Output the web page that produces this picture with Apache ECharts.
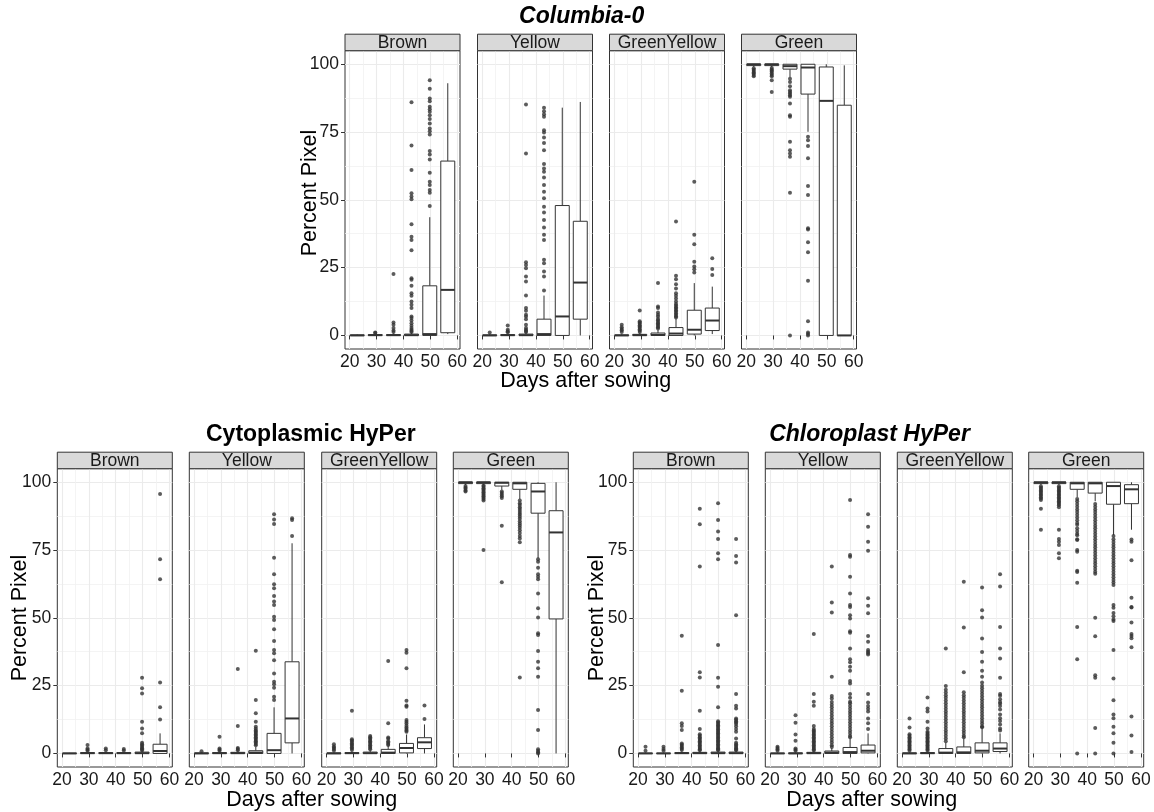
<!DOCTYPE html>
<html>
<head>
<meta charset="utf-8">
<script src="https://cdn.jsdelivr.net/npm/echarts@6/dist/echarts.min.js"></script>
<style>
html,body{margin:0;padding:0;background:#fff;}
#chart{width:1154px;height:812px;}
</style>
</head>
<body>
<div id="chart"></div>
<script>
// ---------------- data ----------------
const sowingDays = [22.8, 29.5, 36.3, 43.0, 49.8, 56.5];
const xTickValues = [20, 30, 40, 50, 60];
const xMinorValues = [25, 35, 45, 55];
const yTickValues = [0, 25, 50, 75, 100];
const yMinorValues = [12.5, 37.5, 62.5, 87.5];
const colourClasses = ['Brown', 'Yellow', 'GreenYellow', 'Green'];
const genotypeTitles = ['Columbia-0', 'Cytoplasmic HyPer', 'Chloroplast HyPer'];

// box stats per sampling day: [lower whisker, Q1, median, Q3, upper whisker]
const col0Brown = [[0,0,0,0.2,0.4],[0,0,0.1,0.3,0.6],[0,0,0.1,0.3,0.7],[0,0,0.1,0.5,1.0],[0,0,0.5,18.3,43.6],[0.5,1.0,16.8,64.3,93]];
const col0BrownOut = [[],[0.9,1.1],[22.7,4.8,3.9,2.7,1.8,1.3],[86,70,61,52.4,51.2,50.2,41,36.4,35.2,31.4,21.1,20.5,18.3,15.6,14.6,12.5,11.3,10.1,7,6.4,5.5,4.5,3.6,2.7,2.1,1.6,1.3],[94.1,91,87.4,86.4,84.3,83.4,82.5,81.2,79.8,78.2,76.3,75.3,74.1,68,66.7,64.9,60,56.7,55.5,53.6,52.6,47.7],[]];
const col0Yellow = [[0,0,0,0.2,0.5],[0,0,0.1,0.3,0.7],[0,0,0.1,0.5,1.0],[0,0,0.5,6,14.7],[0,0,7,47.9,84],[0,6,19.5,42.1,86.1]];
const col0YellowOut = [[1.1],[3.7,2.1,1.5,1.2],[85.2,67.1,27,26,24.8,21.7,19.9,14.7,10.1,9.1,7.6,7,6,3.9,2.7,2.1,1.6,1.3],[84,82.7,81.6,80.6,75.7,74.8,73,71,68.3,63.2,61.6,60.4,58.2,55.5,53,50.6,47.5,45.3,42.6,39.8,37.1,35.2,27.9,26.6,23.6,21.7,16.6],[],[]];
const col0GreenYellow = [[0,0,0,0.2,0.5],[0,0,0.1,0.4,0.8],[0,0,0.2,0.9,2.0],[0,0,0.7,2.9,6.2],[0,0.5,2.1,9.3,19.3],[0.5,1.8,5.5,10.1,18]];
const col0GreenYellowOut = [[3.9,3.0,2.4,1.9,1.3],[9.2,5.2,4.8,4.3,3.8,3.3,2.8,2.3,1.8,1.3],[19.3,10.7,10.1,8.5,7.6,7,6.1,5.6,5,4.5,4,3.5,3,2.6],[42,22,20.7,18.9,17.3,15.6,14.6,13.6,12.5,11.6,11,10.4,9.9,9.3,8.8,8.2,7.6,7.1,6.6],[56.7,37.1,33.6,27.2,25.4,24.4,23.2],[28.5,24.5,22.3]];
const col0Green = [[99,99.5,100,100,100],[99,99.5,100,100,100],[95.3,98.2,99.3,100,100],[75.1,89,98.8,100,100],[0,0,86.5,99,100],[0,0,0,84.9,99.6]];
const col0GreenOut = [[98.5,98,97.5,97,96.6,96,95.6],[98.6,98.1,97.6,97.2,96.6,96,95.6,94.1,89.8],[94.7,93.5,91.9,90.4,89.8,89.2,88.6,88,85.5,81.2,80.6,71.4,68.3,67.1,65.9,52.6,0],[73.3,72,69.9,65.3,55.1,51.8,39.5,39.1,34.4,30.7,20.2,5.2,1.1,0.5,0],[],[]];

const cytBrown = [[0,0,0,0.1,0.2],[0,0,0.1,0.3,0.6],[0,0,0.1,0.3,0.6],[0,0,0.1,0.3,0.6],[0,0,0.1,0.5,1.0],[0,0,0.9,3.4,7.4]];
const cytBrownOut = [[],[3.1,1.8,1.4,1.0],[1.8,1.2],[1.6,1.1],[27.9,24,22.1,11.7,9.2,7.4,3.9,3.4,2.9,2.4,1.9,1.5,1.1],[95.7,71.6,64.2,26.2,17,12.5]];
const cytYellow = [[0,0,0,0.2,0.4],[0,0,0.1,0.3,0.6],[0,0,0.1,0.4,0.8],[0,0,0.3,1.0,2.4],[0,0,1.2,7.4,17],[0,3.9,12.9,33.8,77.5]];
const cytYellowOut = [[0.8],[6.2,1.8,1.4,1.0],[31.1,10.1,2.0,1.6,1.2],[37.9,19.7,14.8,11.7,9.8,9.1,8.5,8,7.5,7,6.5,6,5.5,5,4.5,4,3.5,3],[88.2,86.3,84.6,72.2,66.1,62.4,60.9,58.1,56,54.7,50.4,49.2,45.8,41.5,38.1,36.9,34.4,29.5,26.4,25.5,24.2,20.9,19.7],[86.7,86.1,80.2]];
const cytGreenYellow = [[0,0,0,0.2,0.5],[0,0,0.1,0.3,0.7],[0,0,0.1,0.5,1.2],[0,0,0.3,1.5,2.8],[0,0.2,2,3.7,7],[0,1.8,4.1,5.8,10.7]];
const cytGreenYellowOut = [[3.4,2.6,2.1,1.6,1.1],[15.7,5.2,4.8,4.3,3.8,3.3,2.8,2.3,1.8,1.3],[6.4,6,5.5,5,4.5,4,3.5,3,2.5,2,1.5],[34.1,11.1,5.9,5.4,4.5,4,3.5,3.1],[38.1,37.1,31.4,19.4,17.7,17.2,12.3,11.7,11,10.2,9.6,9,8.5,8],[17.7,12.7]];
const cytGreen = [[99,99.5,100,100,100],[99,99.5,100,100,100],[97.2,98.6,99.8,100,100],[93.8,97.4,99.6,100,100],[72,88.6,96.6,99.6,100],[0,49.6,81.5,89.5,100]];
const cytGreenOut = [[98.6,98.1,97.6,97,96.6],[98.8,98.3,97.8,97.3,96.8,96.3,95.8,95.3,94.8,94.3,93.8,93.3,75],[96.6,96,95.4,94.8,94.2,84,63.1],[93.3,92.3,91.6,90.8,90.1,89.4,88.7,88,87.3,86.5,85.6,84.8,84.1,83.2,82.3,81.3,80.2,79.3,77.9,28],[71.6,70.7,68.5,66.1,65.2,64.2,59,53.5,50.1,44.3,43.7,37.8,33.8,31.4,28.3,16,8.6,1.5,0.9,0.4,0],[]];

const chlBrown = [[0,0,0,0.1,0.3],[0,0,0,0.1,0.3],[0,0,0.1,0.3,0.7],[0,0,0.1,0.4,0.9],[0,0,0.1,0.5,1.0],[0,0,0.1,0.5,1.0]];
const chlBrownOut = [[2.5,1],[2.5,1.6,1],[43.4,23.1,11.1,10.1,8.6,3.7,3.2,2.7,2.2,1.7,1.3],[90.2,84.5,68.9,29.9,28,15.7,9,7.1,6.5,6,5.5,5,4.5,4,3.5,3,2.5,2,1.5,1.2],[92.3,86.1,81.8,79.1,73.8,71.6,40,27.9,24.6,17,11.9,11.4,10.9,10.4,9.9,9.4,8.9,8.4,7.9,7.4,6.9,6.4,5.9,5.4,4.9,4.4,3.9,3.4,2.9,2.4,1.9,1.5,1.2],[79.1,72.8,70.4,51,21.9,17.6,16.6,12.9,12.4,11.9,11.4,10.9,10,9,8,5.5,3.9,3.4,2.9,2.4,1.9,1.5,1.2]];
const chlYellow = [[0,0,0,0.1,0.3],[0,0,0,0.2,0.5],[0,0,0.1,0.4,0.9],[0,0,0.3,0.9,2.0],[0,0,0.5,2.2,5.5],[0,0.2,1,3.1,7.4]];
const chlYellowOut = [[2.5,2,1.5,1],[14.1,11.3,7,4.7,1.8,1.4,1],[44,21.9,19.1,17.6,10.1,9,8.5,8,7.5,7,6.5,6,5.5,5,4.5,4,3.5,3,2.5,2,1.5,1.1],[68.9,55.7,52,28.3,21.2,20.3,19,18,17,16,15,14,13,12,11,10,9,8,7,6,5,4,3,2.4],[93.5,73.2,72.5,65.2,59,54.7,54,51,49.8,45.1,44.5,38.7,34.7,33.6,32,30.5,26.7,25.8,21.9,20.5,19.1,18.5,17.5,16.5,15.5,14.5,13.5,12.5,11.5,10.5,9.5,8.5,7.5,6.5,6],[88.2,83.6,78.1,74.7,57.2,54.5,51.7,43.3,41.2,38.1,37.5,37,36.5,21.9,18.8,17.5,16.5,15.5,12.9,11.1,9]];
const chlGreenYellow = [[0,0,0,0.2,0.5],[0,0,0.1,0.3,0.7],[0,0,0.3,1.8,4.0],[0,0,0.4,2.4,5.5],[0,0.2,1,3.9,9.3],[0,0.7,1.8,3.9,7.4]];
const chlGreenYellowOut = [[12.9,9.6,7.1,6.5,6,5.5,5,4.5,4,3.5,3,2.5,2,1.5,1],[20.6,16.6,15.5,11.7,9.2,8,7.5,7,6.5,6,5.5,5,4.5,4,3.5,3,2.5,2,1.5,1],[38.7,24.9,23.5,22.5,21.5,20.5,19.5,18.5,17.5,16.5,15.5,14.5,13.5,12.5,11.5,10.5,9.5,8.5,7.5,6.5,5.5,4.5],[63.3,46.4,29.9,22.6,21.5,20.5,19.5,18.5,17.5,16.5,15.5,14.5,13.5,12.5,11.5,10.5,9.5,8.5,7.5,6.5,6],[61.2,52.8,50.1,42.4,37.4,33.8,30.5,28.3,26.2,25,24,23,22,21,20,19,18,17,16,15,14,13,12,11,10,9.7],[66.1,61.6,46.6,38.7,35,27.9,21.9,21.3,20,19,18.4,17.5,16.2,14.4,13,12,10.7,9.2,8.5]];
const chlGreen = [[99,99.5,100,100,100],[99,99.5,100,100,100],[94.5,97.4,99.6,100,100],[93,96,99.6,100,100],[80.5,91.9,98.6,100,100],[82.5,92.1,97.4,99.1,100]];
const chlGreenOut = [[98.5,98,97.5,97,96.5,96,95.5,95,94.5,94,93.5,90.2,82.5],[98.5,98,97.5,97,96.5,96,95.5,95,94.5,94,93.5,93,92.5,92,91.5,90.8,82.5,79.1,78.1,76.9,73.8,72],[93.8,93,92,91,90,89,88,87,86,85,84.3,83,82,81,80.5,79,78.7,75,74.4,67.4,66.9,62.9,46.6,34.7,0],[92,91,90,89,88,87,86,85,84,83,82,81,80,79,78,77,76,75,74,73,72,71,70,69,68,67,66.3,50,43.2,28.8,27.9,9.4,0],[80.2,79,78,77,76,75,74,73,72,71,70,69,68,67,66,65,64,63,62.1,54.7,53.7,51.8,50.6,49.4,48.8,38.1,27.6,19.6,14.4,13,9.8,7.4,3.9,0],[78.9,78.1,71.2,57.4,54,53.8,48.3,44,43.3,42.5,39.2,13.6,6.6,0.5]];

// ---------------- layout (pixels) ----------------
const FONT = '"Liberation Sans", Arial, Helvetica, sans-serif';
const PANEL_W = 115, PANEL_H = 298.3, STRIP_H = 16.5;
const groups = [
  { title: genotypeTitles[0], italic: true, top: 50.7, lefts: [345, 477.5, 609.5, 741.5],
    stats: [col0Brown, col0Yellow, col0GreenYellow, col0Green],
    outs: [col0BrownOut, col0YellowOut, col0GreenYellowOut, col0GreenOut],
    titlePos: [581.7, 17], yTitle: [310, 193], xTitle: [585.7, 381.5] },
  { title: genotypeTitles[1], italic: false, top: 468.7, lefts: [57.3, 189.3, 321.7, 453.3],
    stats: [cytBrown, cytYellow, cytGreenYellow, cytGreen],
    outs: [cytBrownOut, cytYellowOut, cytGreenYellowOut, cytGreenOut],
    titlePos: [310.8, 435], yTitle: [20, 618], xTitle: [311.7, 800] },
  { title: genotypeTitles[2], italic: true, top: 468.7, lefts: [633.3, 765.3, 897.3, 1028.7],
    stats: [chlBrown, chlYellow, chlGreenYellow, chlGreen],
    outs: [chlBrownOut, chlYellowOut, chlGreenYellowOut, chlGreenOut],
    titlePos: [869.5, 435], yTitle: [596.7, 618], xTitle: [871.7, 800] }
];

const BOX_W_DAYS = 5.2;
function renderBox(params, api) {
  const x = api.value(0);
  const pLo = api.coord([x, api.value(1)]);
  const pQ1 = api.coord([x, api.value(2)]);
  const pMed = api.coord([x, api.value(3)]);
  const pQ3 = api.coord([x, api.value(4)]);
  const pHi = api.coord([x, api.value(5)]);
  const half = api.size([BOX_W_DAYS, 0])[0] / 2;
  const cx = pLo[0];
  const st = { stroke: '#333333', lineWidth: 1, fill: null };
  return {
    type: 'group',
    children: [
      { type: 'line', shape: { x1: cx, y1: pHi[1], x2: cx, y2: pQ3[1] }, style: st },
      { type: 'line', shape: { x1: cx, y1: pQ1[1], x2: cx, y2: pLo[1] }, style: st },
      { type: 'rect', shape: { x: cx - half, y: pQ3[1], width: half * 2, height: Math.max(pQ1[1] - pQ3[1], 0.01) },
        style: { stroke: '#333333', lineWidth: 1, fill: '#ffffff' } },
      { type: 'line', shape: { x1: cx - half, y1: pMed[1], x2: cx + half, y2: pMed[1] },
        style: { stroke: '#333333', lineWidth: 2 } }
    ]
  };
}

const grid = [], xAxis = [], yAxis = [], series = [], graphic = [];
let g = 0;
groups.forEach((grp) => {
  grp.lefts.forEach((left, p) => {
    grid.push({ left: left, top: grp.top, width: PANEL_W, height: PANEL_H, show: true,
      borderColor: '#333333', borderWidth: 1, backgroundColor: '#ffffff', containLabel: false, outerBoundsMode: 'none' });
    const firstCol = p === 0;
    xAxis.push({ type: 'value', gridIndex: g, min: 18.25, max: 61.05,
      axisLine: { show: false },
      axisTick: { show: true, length: 4, customValues: xTickValues, lineStyle: { color: '#333333', width: 1 } },
      axisLabel: { customValues: xTickValues, fontSize: 17.5, fontFamily: FONT, color: '#1a1a1a', margin: 4 },
      splitLine: { show: true, lineStyle: { color: '#ebebeb', width: 1.1 } } });
    xAxis.push({ type: 'value', gridIndex: g, min: 18.25, max: 61.05,
      axisLine: { show: false },
      axisTick: { show: false, customValues: xMinorValues },
      axisLabel: { show: false, customValues: xMinorValues },
      splitLine: { show: true, lineStyle: { color: '#f1f1f1', width: 0.8 } } });
    yAxis.push({ type: 'value', gridIndex: g, min: -5, max: 105,
      axisLine: { show: false },
      axisTick: { show: firstCol, length: 4, customValues: yTickValues, lineStyle: { color: '#333333', width: 1 } },
      axisLabel: { show: firstCol, customValues: yTickValues, fontSize: 17.5, fontFamily: FONT, color: '#1a1a1a', margin: 6 },
      splitLine: { show: true, lineStyle: { color: '#ebebeb', width: 1.1 } } });
    yAxis.push({ type: 'value', gridIndex: g, min: -5, max: 105,
      axisLine: { show: false },
      axisTick: { show: false, customValues: yMinorValues },
      axisLabel: { show: false, customValues: yMinorValues },
      splitLine: { show: true, lineStyle: { color: '#f1f1f1', width: 0.8 } } });

    const stats = grp.stats[p];
    const outs = grp.outs[p];
    const boxData = sowingDays.map((d, i) => [d].concat(stats[i]));
    const outData = [];
    sowingDays.forEach((d, i) => outs[i].forEach((v) => outData.push([d, v])));
    series.push({ type: 'custom', name: grp.title + ' ' + colourClasses[p], xAxisIndex: 2 * g, yAxisIndex: 2 * g,
      renderItem: renderBox, data: boxData, encode: { x: 0, y: [1, 2, 3, 4, 5] }, z: 3, animation: false });
    series.push({ type: 'scatter', name: grp.title + ' ' + colourClasses[p] + ' outliers', xAxisIndex: 2 * g, yAxisIndex: 2 * g,
      data: outData, symbol: 'circle', symbolSize: 4, itemStyle: { color: '#333333' }, z: 4, animation: false });

    graphic.push({ type: 'rect', shape: { x: left, y: grp.top - STRIP_H, width: PANEL_W, height: STRIP_H },
      style: { fill: '#d9d9d9', stroke: '#333333', lineWidth: 1 }, z: 10 });
    graphic.push({ type: 'text', x: left + PANEL_W / 2, y: grp.top - STRIP_H / 2 + 0.5, z: 11,
      style: { text: colourClasses[p], font: '17.5px ' + FONT, fill: '#1a1a1a', textAlign: 'center', textVerticalAlign: 'middle' } });
    g++;
  });
  graphic.push({ type: 'text', x: grp.titlePos[0], y: grp.titlePos[1], z: 11,
    style: { text: grp.title, font: (grp.italic ? 'italic ' : '') + 'bold 23px ' + FONT, fill: '#000000', textAlign: 'center', textVerticalAlign: 'middle' } });
  graphic.push({ type: 'text', x: grp.yTitle[0], y: grp.yTitle[1], rotation: Math.PI / 2, z: 11,
    style: { text: 'Percent Pixel', font: '21.5px ' + FONT, fill: '#000000', textAlign: 'center', textVerticalAlign: 'middle' } });
  graphic.push({ type: 'text', x: grp.xTitle[0], y: grp.xTitle[1], z: 11,
    style: { text: 'Days after sowing', font: '21.5px ' + FONT, fill: '#000000', textAlign: 'center', textVerticalAlign: 'middle' } });
});

const chart = echarts.init(document.getElementById('chart'), null, { renderer: 'canvas' });
chart.setOption({
  backgroundColor: '#ffffff',
  animation: false,
  grid: grid,
  xAxis: xAxis,
  yAxis: yAxis,
  series: series,
  graphic: graphic
});
</script>
</body>
</html>
